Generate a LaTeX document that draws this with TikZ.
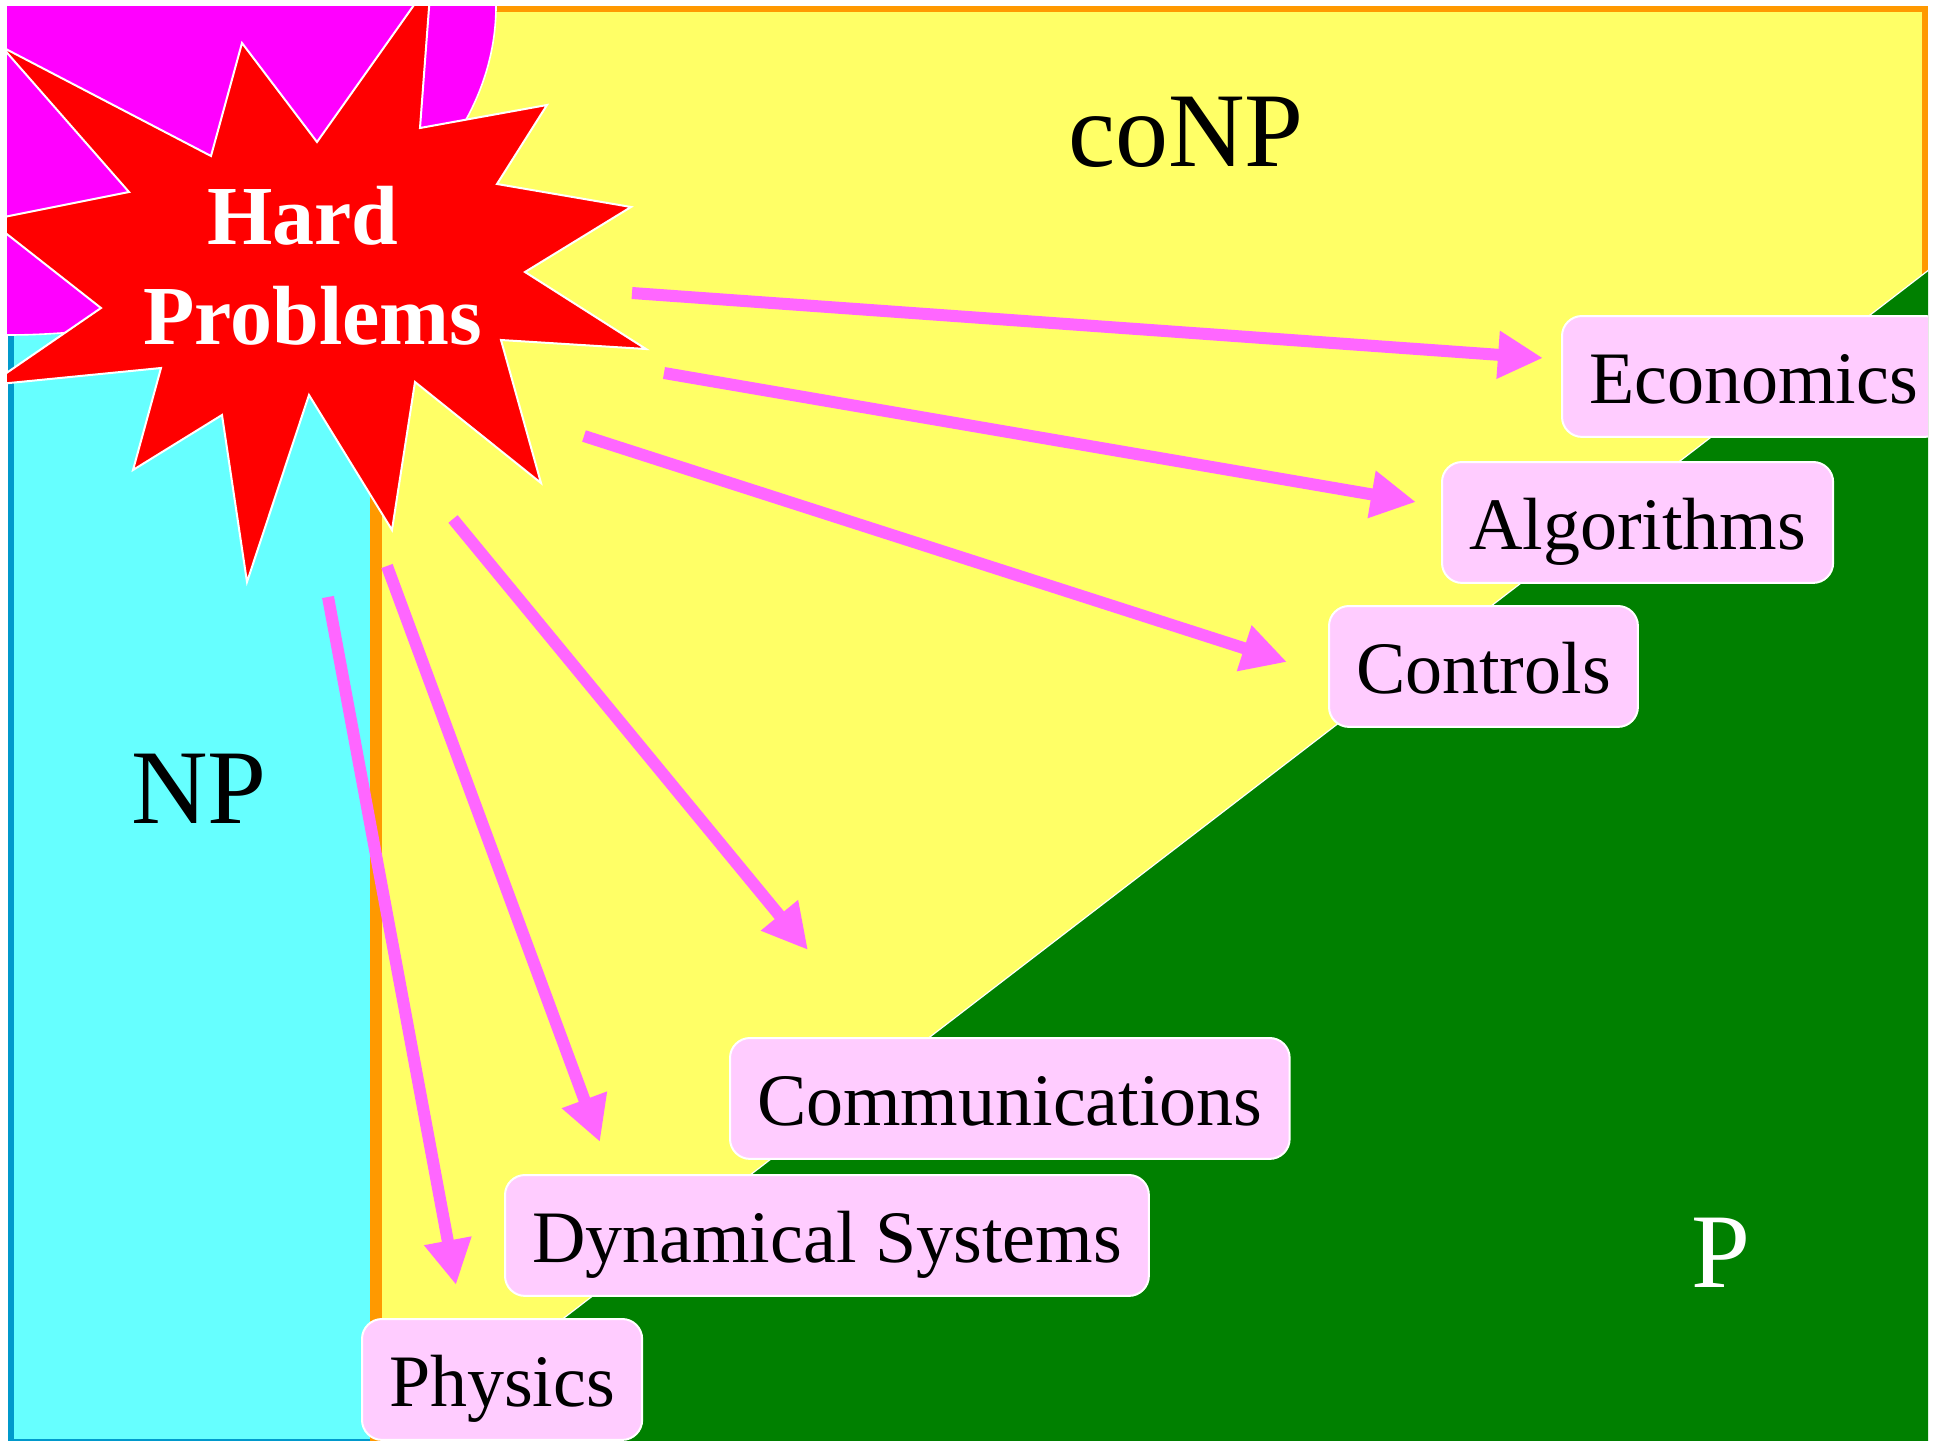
\documentclass[tikz,border=0pt]{standalone}
\usepackage{fontspec}
\setmainfont{Liberation Serif}
\usetikzlibrary{arrows.meta}

\definecolor{conpyellow}{HTML}{FFFF66}
\definecolor{conporange}{HTML}{FF9900}
\definecolor{npcyan}{HTML}{66FFFF}
\definecolor{npblue}{HTML}{0099CC}
\definecolor{hardmagenta}{HTML}{FF00FF}
\definecolor{starred}{HTML}{FF0000}
\definecolor{pgreen}{HTML}{008000}
\definecolor{boxpink}{HTML}{FFCCFF}
\definecolor{arrowpink}{HTML}{FF66FF}

\begin{document}
\begin{tikzpicture}[x=0.5pt,y=-0.5pt,
  classlabel/.style={font=\fontsize{53}{60}\selectfont, anchor=base, inner sep=0pt},
  hardtext/.style={font=\fontsize{42}{50}\selectfont\bfseries, text=white, anchor=base, inner sep=0pt},
  fieldbox/.style={anchor=north west, fill=boxpink, draw=white, line width=1pt,
    rounded corners=10pt, font=\fontsize{37}{44}\selectfont,
    inner xsep=13.5pt, inner ysep=9.9pt, text height=34pt, text depth=6.65pt},
  reach/.style={draw=arrowpink, line width=6pt,
    -{Triangle[length=22.5pt,width=22.5pt]}}
]
\useasboundingbox[fill=white] (0,0) rectangle (1940,1441);

\begin{scope}
\clip (7,6) rectangle (1928,1441);

% NP region
\fill[npcyan] (11,100) rectangle (373,1442);
\draw[npblue, line width=3pt] (11,100) -- (11,1442) -- (373,1442);

% coNP region
\fill[conpyellow] (376,9) rectangle (1925,1460);
\draw[conporange, line width=3pt] (376,1460) |- (1925,9) -- (1925,1460);
\draw[conporange, line width=6pt] (376,9) -- (376,1460);

% P region
\fill[pgreen] (1930,269) -- (1930,1450) -- (392,1450) -- cycle;
\draw[white, line width=0.6pt] (1930,269) -- (392,1450);

% hard core
\filldraw[fill=hardmagenta, draw=white, line width=0.8pt]
  (7,6) ellipse [x radius=489, y radius=329];

% burst
\filldraw[fill=starred, draw=white, line width=1pt, line join=miter]
  (2,47) -- (211,156) -- (242,43) -- (317,142) -- (431,-19) -- (420,128)
  -- (547,105) -- (497,184) -- (631,207) -- (525,272) -- (646,349)
  -- (501,340) -- (541,483) -- (415,382) -- (392,530) -- (309,395)
  -- (247,582) -- (222,415) -- (133,470) -- (161,368) -- (-11,385)
  -- (101,308) -- (-11,220) -- (129,192) -- cycle;
\end{scope}

% class labels
\node[classlabel] (conp) at (1186,166) {coNP};
\node[classlabel] (np) at (199,823) {NP};
\node[classlabel, text=white] (p) at (1721,1287) {P};

\node[hardtext] (hard) at (303,244) {Hard};
\node[hardtext] (problems) at (313,344) {Problems};

% arrows from the burst
\coordinate (econ-from) at (632,293);   \coordinate (econ-to) at (1543,358);
\coordinate (alg-from)  at (664,373);   \coordinate (alg-to)  at (1416,502);
\coordinate (ctrl-from) at (584,436);   \coordinate (ctrl-to) at (1287,662);
\coordinate (comm-from) at (453,519);   \coordinate (comm-to) at (808,950);
\coordinate (dyn-from)  at (387,566);   \coordinate (dyn-to)  at (600,1142);
\coordinate (phys-from) at (328,597);   \coordinate (phys-to) at (456,1285);

\draw[reach] (econ-from) -- (econ-to);
\draw[reach] (alg-from) -- (alg-to);
\draw[reach] (ctrl-from) -- (ctrl-to);
\draw[reach] (comm-from) -- (comm-to);
\draw[reach] (dyn-from) -- (dyn-to);
\draw[reach] (phys-from) -- (phys-to);

% application areas
\begin{scope}
\clip (7,6) rectangle (1928,1441);
\node[fieldbox] (econ) at (1561,315) {Economics};
\node[fieldbox] (alg) at (1441,461) {Algorithms};
\node[fieldbox] (ctrl) at (1328,605) {Controls};
\node[fieldbox] (comm) at (729,1037) {Communications};
\node[fieldbox] (dyn) at (504,1174) {Dynamical Systems};
\node[fieldbox] (phys) at (361,1318) {Physics};
\end{scope}
\end{tikzpicture}
\end{document}
